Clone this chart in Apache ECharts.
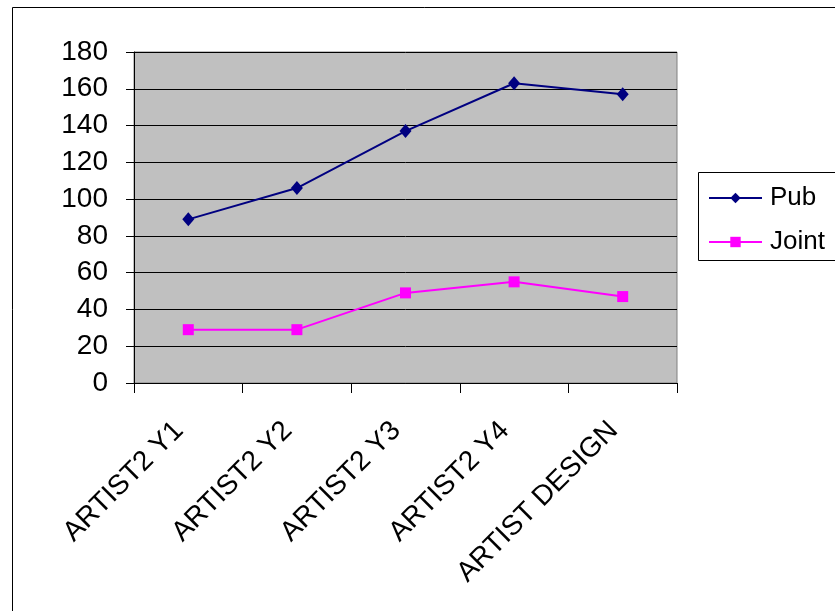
<!DOCTYPE html>
<html>
<head>
<meta charset="utf-8">
<script src="https://cdn.jsdelivr.net/npm/echarts@6/dist/echarts.min.js"></script>
<style>
  html, body { margin: 0; padding: 0; background: #fff; }
  #chart { width: 835px; height: 611px; }
</style>
</head>
<body>
<div id="chart"></div>
<script>
// Program categories and yearly counts
var categories = ['ARTIST2 Y1', 'ARTIST2 Y2', 'ARTIST2 Y3', 'ARTIST2 Y4', 'ARTIST DESIGN'];
var pubValues = [89, 106, 137, 163, 157];
var jointValues = [29, 29, 49, 55, 47];
var yTicks = { min: 0, max: 180, interval: 20 };

var FONT = '"Liberation Sans", Arial, sans-serif';

var chart = echarts.init(document.getElementById('chart'), null, { renderer: 'canvas' });

chart.setOption({
  backgroundColor: '#ffffff',
  animation: false,
  textStyle: { fontFamily: FONT },
  graphic: [
    {
      // outer chart frame
      type: 'rect',
      shape: { x: 12.5, y: 7.5, width: 840, height: 620 },
      style: { fill: 'none', stroke: '#000', lineWidth: 1 },
      silent: true,
      z: -10
    },
    {
      // legend frame, running past the right edge
      type: 'rect',
      shape: { x: 698.5, y: 172.5, width: 160, height: 88 },
      style: { fill: '#fff', stroke: '#000', lineWidth: 1 },
      silent: true,
      z: -5
    }
  ],
  grid: {
    left: 134, top: 52, width: 543, height: 331,
    show: true,
    backgroundColor: '#C0C0C0',
    borderColor: '#808080',
    borderWidth: 1
  },
  legend: {
    orient: 'vertical',
    left: 698, top: 172,
    padding: [13, 10, 6, 10],
    itemGap: 18,
    itemWidth: 53,
    itemHeight: 13,
    borderWidth: 0,
    textStyle: { fontSize: 26, color: '#000', fontFamily: FONT, padding: [0, 0, 0, 3] },
    data: ['Pub', 'Joint']
  },
  xAxis: {
    type: 'category',
    data: categories,
    boundaryGap: true,
    axisLine: { lineStyle: { color: '#000', width: 1 } },
    axisTick: { show: true, length: 10, interval: 0, lineStyle: { color: '#000' } },
    axisLabel: {
      interval: 0, rotate: 45, fontSize: 28, color: '#000', margin: 34, fontFamily: FONT,
      padding: [0, 13, 0, 0]
    },
    splitLine: { show: false }
  },
  yAxis: {
    type: 'value',
    min: yTicks.min, max: yTicks.max, interval: yTicks.interval,
    axisLine: { show: true, lineStyle: { color: '#000', width: 1 } },
    axisTick: { show: true, length: 8, lineStyle: { color: '#000' } },
    axisLabel: { fontSize: 28, color: '#000', margin: 26, fontFamily: FONT },
    splitLine: { show: true, lineStyle: { color: '#000', width: 1 } }
  },
  series: [
    {
      name: 'Pub',
      type: 'line',
      data: pubValues,
      symbol: 'diamond',
      symbolSize: [12, 14],
      color: '#000080',
      lineStyle: { color: '#000080', width: 2 },
      itemStyle: { color: '#000080' }
    },
    {
      name: 'Joint',
      type: 'line',
      data: jointValues,
      symbol: 'rect',
      symbolSize: 11,
      color: '#FF00FF',
      lineStyle: { color: '#FF00FF', width: 2 },
      itemStyle: { color: '#FF00FF' }
    }
  ]
});
</script>
</body>
</html>
